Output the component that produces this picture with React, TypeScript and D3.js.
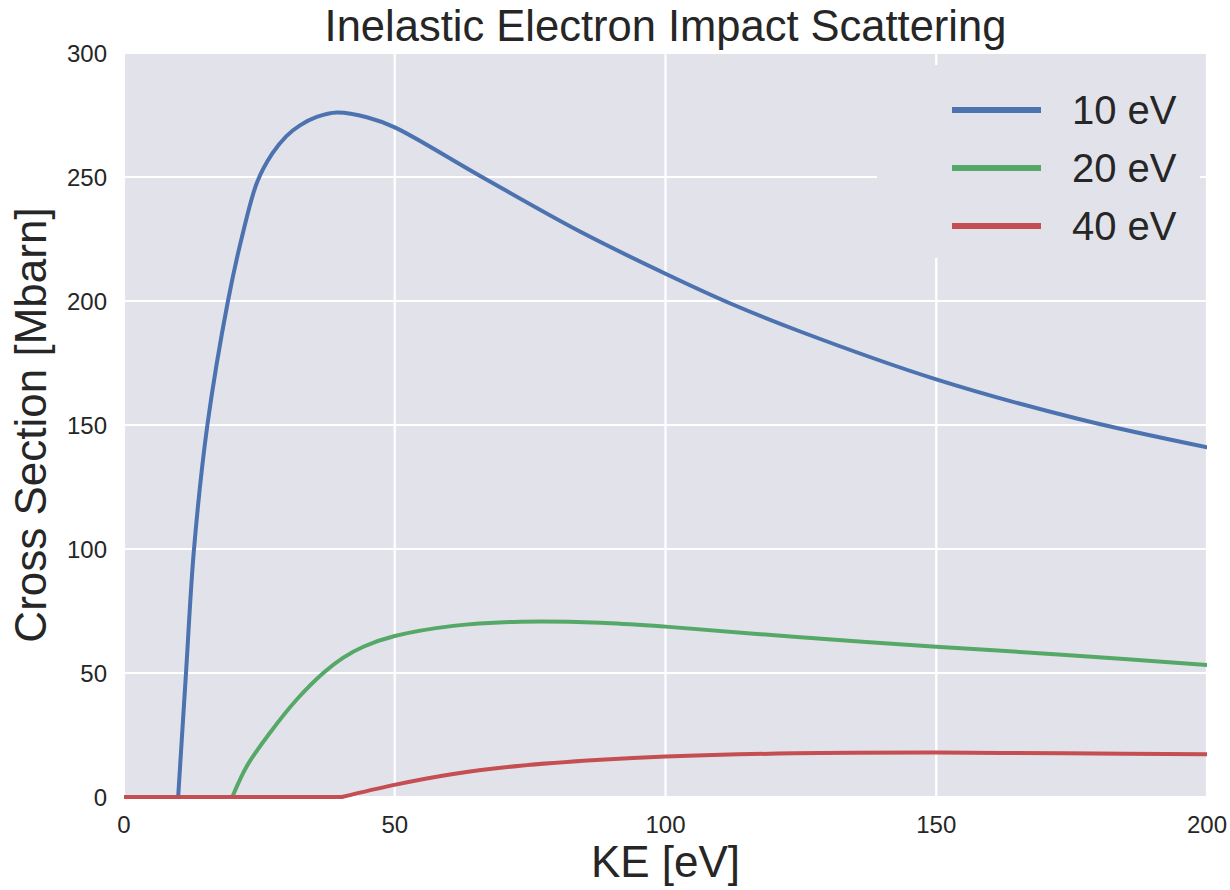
import React from "react";
import * as d3 from "d3";

const TITLE = "Inelastic Electron Impact Scattering";
const X_LABEL = "KE [eV]";
const Y_LABEL = "Cross Section [Mbarn]";

const xTicks = [0, 50, 100, 150, 200];
const yTicks = [0, 50, 100, 150, 200, 250, 300];

const seriesNames = ["10 eV", "20 eV", "40 eV"];
const seriesColors = ["#4C72B0", "#55A868", "#C44E52"];
const thresholds = [10, 20, 40.2];

// [KE, cross section] (rising part, from threshold)
const blue10: [number, number][] = [
  [10, 0], [11.45, 50], [12.93, 100], [15.4, 150], [19.2, 200], [21.8, 226],
  [24.6, 248], [27.4, 259.5], [30, 266.5], [32.5, 270.8], [35.6, 274.2], [39.3, 276],
  [45, 274], [50, 270], [65.7, 250.5], [84.2, 228], [100, 211], [112, 199],
  [125, 187.6], [150, 168.4], [176.5, 152.3], [200, 141],
];
const green20: [number, number][] = [
  [20, 0], [22.7, 12.5], [27, 26], [31.9, 39.3], [36.8, 50], [40.5, 56.2], [44.2, 60.6],
  [50, 64.9], [60.8, 69], [73.2, 70.7], [88, 70.3], [100, 68.7], [123.7, 64.6],
  [150, 60.6], [173.9, 57.3], [200, 53.2],
];
const red40: [number, number][] = [
  [40.2, 0], [49.7, 4.8], [60.5, 9.2], [73.2, 12.6], [88, 15.0], [100, 16.3],
  [123.7, 17.6], [150, 17.9], [173.9, 17.6], [200, 17.2],
];
const seriesData = [blue10, green20, red40];

const W = 1230;
const H = 890;
const M = { left: 124, right: 1207, top: 53, bottom: 797 };
const FONT = "'Liberation Sans', Arial, Helvetica, sans-serif";
const BG = "#e2e2ea";
const TEXT = "#262626";

export default function App() {
  const x = d3.scaleLinear().domain([0, 200]).range([M.left, M.right]);
  const y = d3.scaleLinear().domain([0, 300]).range([M.bottom, M.top]);
  const line = d3
    .line<[number, number]>()
    .x((d) => x(d[0]))
    .y((d) => y(d[1]))
    .curve(d3.curveCatmullRom.alpha(0.5));
  const flat = d3
    .line<[number, number]>()
    .x((d) => x(d[0]))
    .y((d) => y(d[1]));

  // legend geometry
  const lg = { x0: 877, x1: 1200, y0: 65, y1: 258 };
  const legendRows = [110, 168, 226];

  return (
    <svg
      width={W}
      height={H}
      style={{ position: "absolute", left: 0, top: 0, background: "#fff" }}
      fontFamily={FONT}
    >
      <defs>
        <clipPath id="plotclip">
          <rect x={M.left} y={M.top - 3} width={M.right - M.left} height={M.bottom - M.top + 6} />
        </clipPath>
      </defs>
      <rect x={M.left} y={M.top} width={M.right - M.left} height={M.bottom - M.top} fill={BG} />
      <g clipPath="url(#plotclip)">
        {xTicks.map((t) => (
          <line key={"gx" + t} x1={x(t)} x2={x(t)} y1={M.top} y2={M.bottom} stroke="#fff" strokeWidth={2.2} />
        ))}
        {yTicks.map((t) => (
          <line key={"gy" + t} x1={M.left} x2={M.right} y1={y(t)} y2={y(t)} stroke="#fff" strokeWidth={2.2} />
        ))}
        {/* legend background covering gridlines */}
        <rect x={lg.x0} y={lg.y0} width={lg.x1 - lg.x0} height={lg.y1 - lg.y0} fill={BG} />
        {seriesData.map((data, i) => (
          <g key={"s" + i}>
            <path
              d={flat([[0, 0], [thresholds[i], 0]]) || ""}
              fill="none"
              stroke={seriesColors[i]}
              strokeWidth={4}
              strokeLinecap="round"
            />
            <path
              d={line(data) || ""}
              fill="none"
              stroke={seriesColors[i]}
              strokeWidth={4}
              strokeLinejoin="round"
              strokeLinecap="round"
            />
          </g>
        ))}
      </g>
      {/* y tick labels */}
      {yTicks.map((t) => (
        <text key={"ty" + t} x={107} y={y(t)} dy="0.36em" textAnchor="end" fontSize={24} fill={TEXT}>
          {t}
        </text>
      ))}
      {/* x tick labels */}
      {xTicks.map((t) => (
        <text key={"tx" + t} x={x(t)} y={833} textAnchor="middle" fontSize={24} fill={TEXT}>
          {t}
        </text>
      ))}
      <text x={(M.left + M.right) / 2} y={41} textAnchor="middle" fontSize={43.5} fill={TEXT}>
        {TITLE}
      </text>
      <text x={(M.left + M.right) / 2} y={877} textAnchor="middle" fontSize={44} fill={TEXT}>
        {X_LABEL}
      </text>
      <text
        transform={`translate(46,${(M.top + M.bottom) / 2}) rotate(-90)`}
        textAnchor="middle"
        fontSize={44}
        fill={TEXT}
      >
        {Y_LABEL}
      </text>
      {/* legend */}
      {seriesNames.map((name, i) => (
        <g key={"lg" + i}>
          <line x1={952} x2={1041} y1={legendRows[i]} y2={legendRows[i]} stroke={seriesColors[i]} strokeWidth={6} />
          <text x={1072} y={legendRows[i]} dy="0.36em" fontSize={40} fill={TEXT}>
            {name}
          </text>
        </g>
      ))}
    </svg>
  );
}
